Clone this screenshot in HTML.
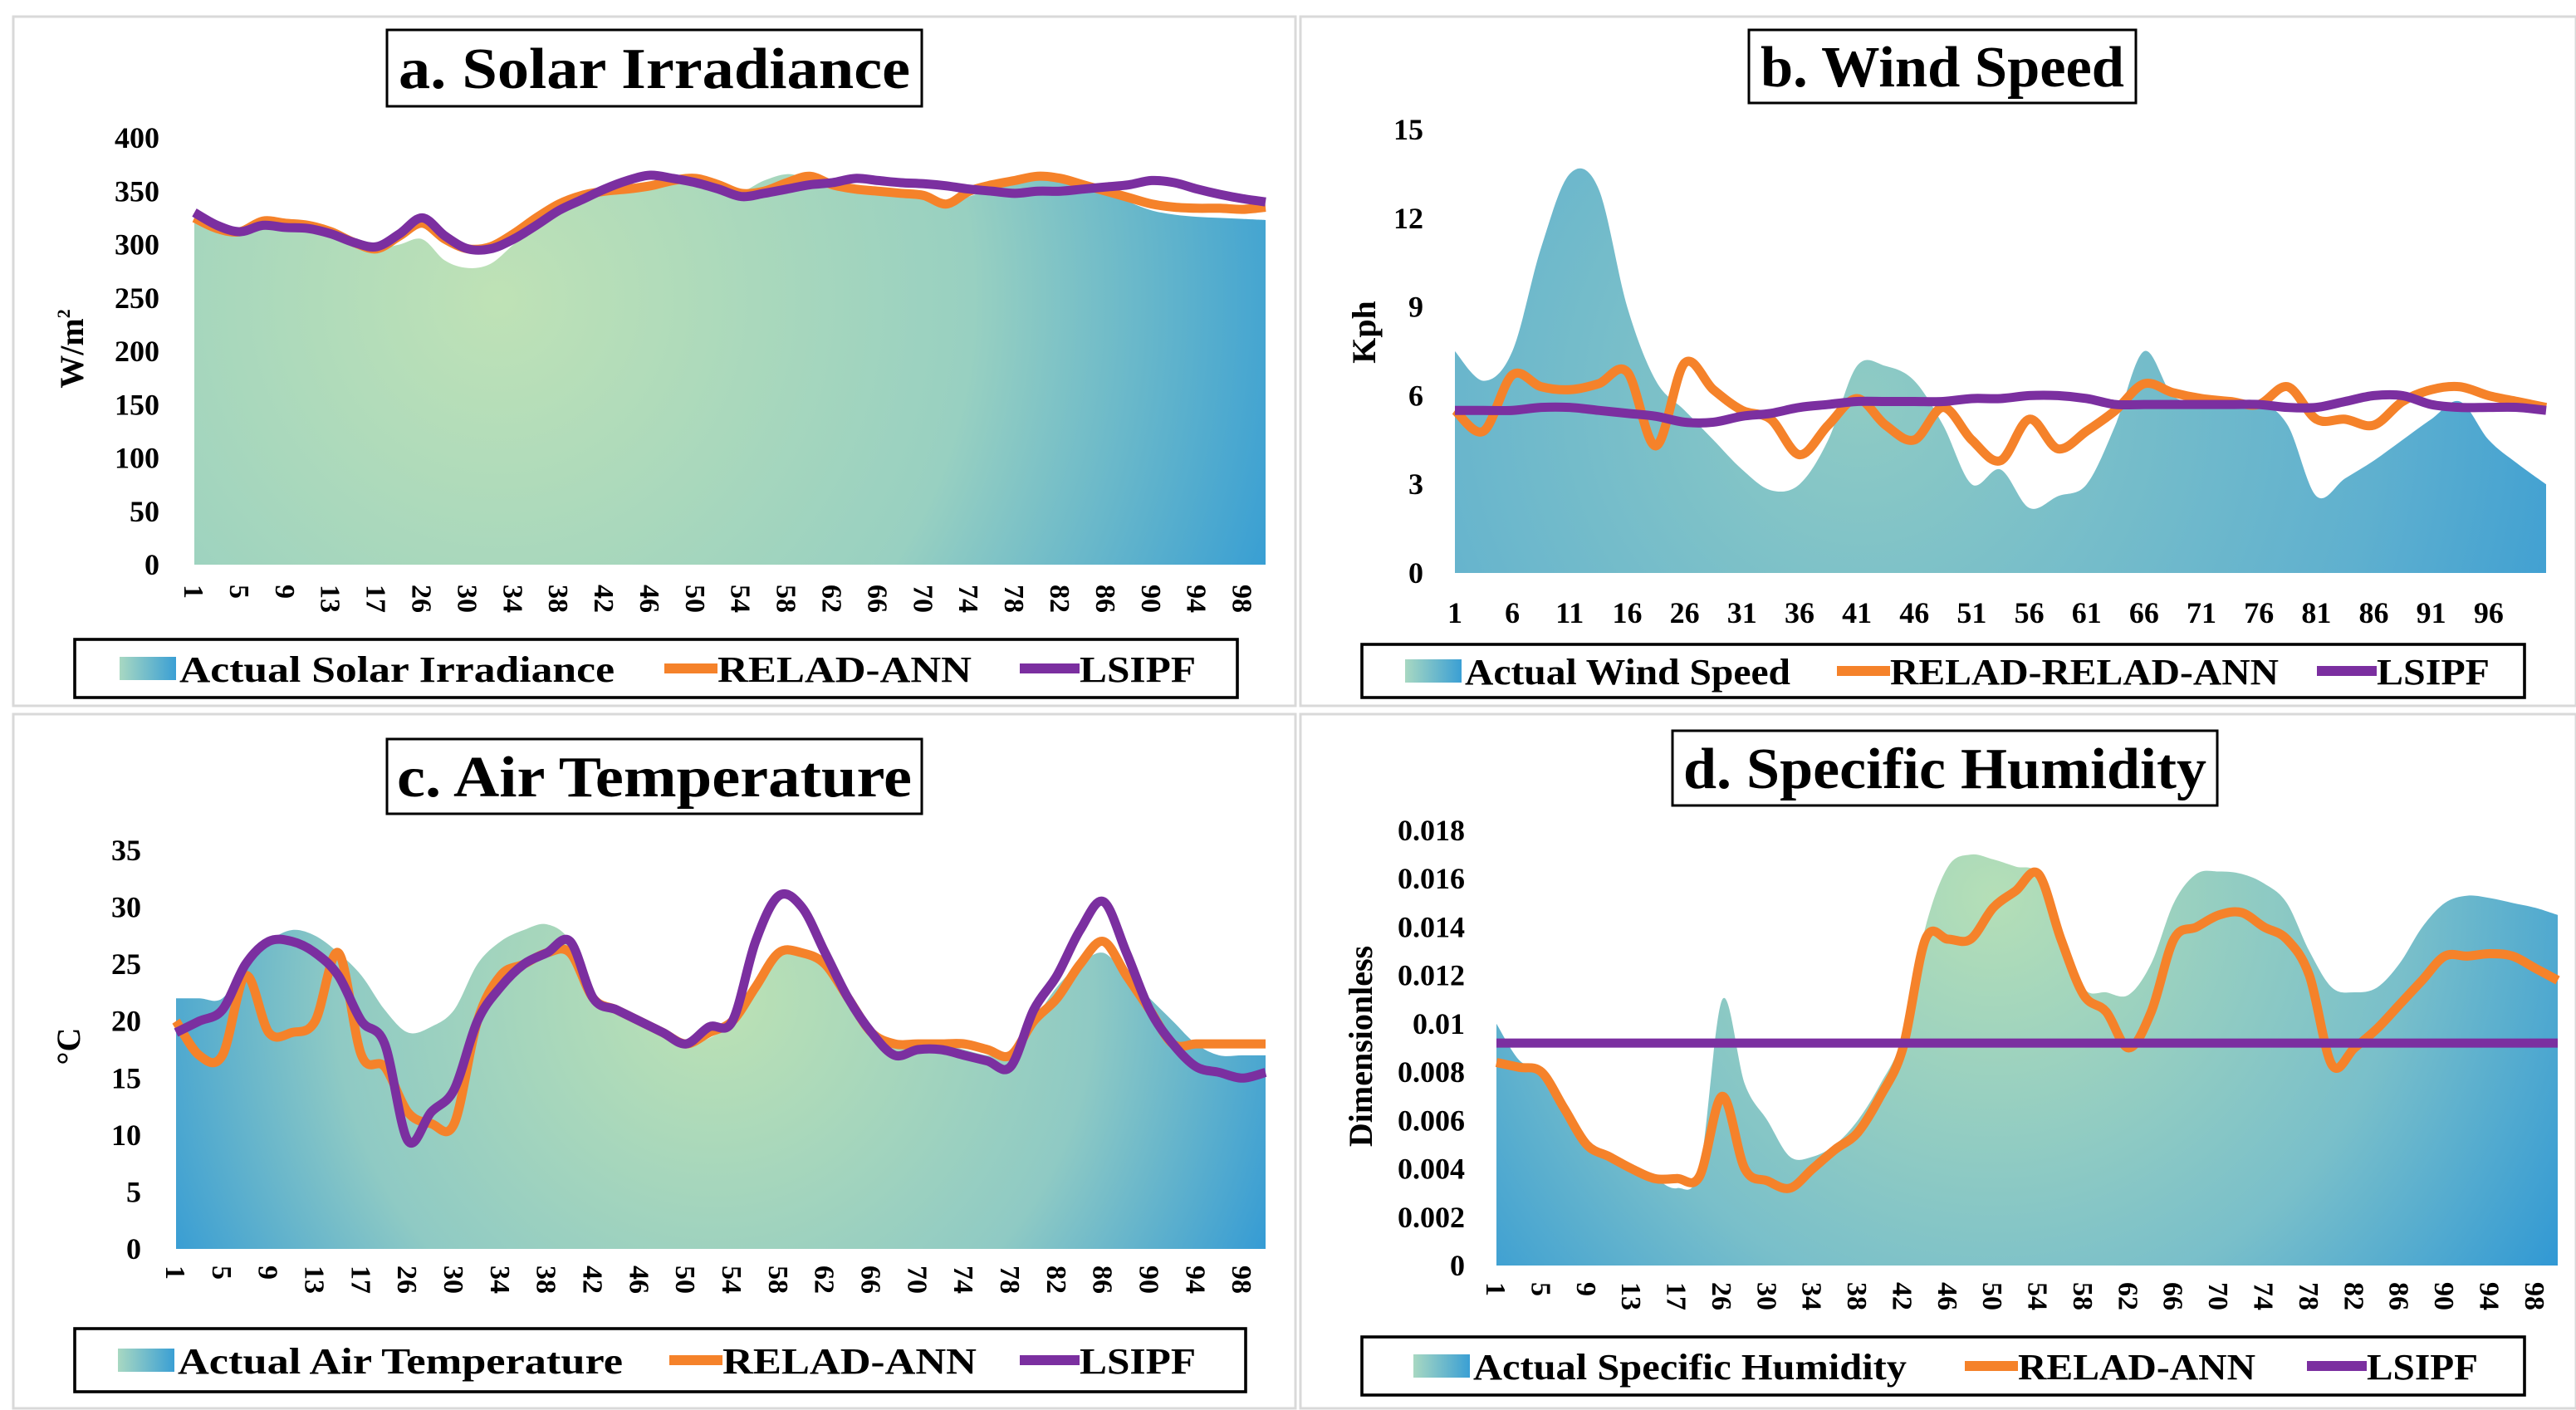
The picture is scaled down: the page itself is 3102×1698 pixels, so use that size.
<!DOCTYPE html>
<html><head><meta charset="utf-8"><style>
html,body{margin:0;padding:0;background:#fff;}
svg{display:block;}
text{font-family:"Liberation Serif",serif;font-weight:bold;fill:#000;}
</style></head><body>
<svg id="fig" width="3102" height="1698" viewBox="0 0 1551 849" xmlns="http://www.w3.org/2000/svg">
<defs>
<radialGradient id="gA" gradientUnits="userSpaceOnUse" cx="300" cy="180" r="520">
<stop offset="0" stop-color="#bfe2b6"/><stop offset="0.55" stop-color="#98d0c1"/><stop offset="1" stop-color="#2a97d6"/></radialGradient>
<radialGradient id="gB" gradientUnits="userSpaceOnUse" cx="1120" cy="240" r="520">
<stop offset="0" stop-color="#8fcbc4"/><stop offset="0.6" stop-color="#5fb0cf"/><stop offset="1" stop-color="#2a94d4"/></radialGradient>
<radialGradient id="gC" gradientUnits="userSpaceOnUse" cx="430" cy="600" r="380">
<stop offset="0" stop-color="#bde2b4"/><stop offset="0.6" stop-color="#8fcac4"/><stop offset="1" stop-color="#2b96d6"/></radialGradient>
<radialGradient id="gD" gradientUnits="userSpaceOnUse" cx="1200" cy="540" r="420">
<stop offset="0" stop-color="#b5dfb7"/><stop offset="0.6" stop-color="#79bfca"/><stop offset="1" stop-color="#2a95d5"/></radialGradient>
<linearGradient id="gL" x1="0" x2="1" y1="0" y2="0"><stop offset="0" stop-color="#a8d8c2"/><stop offset="1" stop-color="#3a9fd4"/></linearGradient>
</defs>
</svg>
<script>
// ---- data ----
const solarLabels=["1","5","9","13","17","26","30","34","38","42","46","50","54","58","62","66","70","74","78","82","86","90","94","98"];
const solarActual=[326,316,310,320,318,316,310,300,296,300,305,285,278,282,300,318,333,345,350,352,355,358,360,355,350,360,366,362,358,352,350,348,345,338,345,352,356,362,364,358,350,340,332,328,326,325,324,323];
const solarRelad=[325,315,312,322,320,318,312,302,296,308,320,305,296,298,310,325,338,346,350,352,355,360,362,356,348,350,358,364,356,352,350,348,346,338,350,356,360,364,362,356,350,344,338,335,334,334,333,335];
const solarLsipf=[330,318,312,318,316,315,310,302,298,310,325,308,296,296,305,318,332,342,352,360,365,362,358,352,345,348,352,356,358,362,360,358,357,355,352,350,348,350,350,352,354,356,360,358,352,347,343,340];

const windLabels=["1","6","11","16","26","31","36","41","46","51","56","61","66","71","76","81","86","91","96"];
const windActual=[7.5,6.5,7.5,11,13.5,13,9,6.5,5.5,4.5,3.5,2.8,3.0,4.5,7.0,7.0,6.5,5.0,3.0,3.5,2.2,2.6,3.0,5.0,7.5,6.0,5.8,5.8,5.8,5.0,2.6,3.2,3.8,4.5,5.2,5.8,4.5,3.7,3.0];
const windRelad=[5.5,4.8,6.7,6.3,6.2,6.4,6.8,4.3,7.1,6.2,5.5,5.2,4.0,5.0,5.9,5.0,4.5,5.6,4.5,3.8,5.2,4.2,4.8,5.5,6.4,6.1,5.9,5.8,5.7,6.3,5.2,5.2,5.0,5.8,6.2,6.3,6.0,5.8,5.6];
const windLsipf=[5.5,5.5,5.5,5.6,5.6,5.5,5.4,5.3,5.1,5.1,5.3,5.4,5.6,5.7,5.8,5.8,5.8,5.8,5.9,5.9,6.0,6.0,5.9,5.7,5.7,5.7,5.7,5.7,5.7,5.6,5.6,5.8,6.0,6.0,5.7,5.6,5.6,5.6,5.5];

const tempLabels=solarLabels;
const tempActual=[22,22,22,25,27,28,27.5,26,24,21,19,19.5,21,25,27,28,28.5,27,22,21,20,19,18,18.5,20,23,26,26,25,22,19,18,18,18,17.5,17,17,20,23,25,26,24,22,20,18,17,17,17];
const tempRelad=[20,17,17,24,19,19,20,26,17,16,12,11,11,20,24,25,26,26,22,21,20,19,18,19,20,23,26,26,25,22,19,18,18,18,18,17.5,17,20,22,25,27,24,21,18,18,18,18,18];
const tempLsipf=[19,20,21,25,27,27,26,24,20,18,9.5,12,14,20,23,25,26,27,22,21,20,19,18,19.5,20,27,31,30,26,22,19,17,17.5,17.5,17,16.5,16,21,24,28,30.5,26,21,18,16,15.5,15,15.5];

const humLabels=solarLabels;
const humActual=[10,8.5,8,6.5,5,4.5,4,3.6,3.2,4,11,7.5,6,4.5,4.5,5,6,7.5,9.5,14,16.5,17,16.8,16.5,16.2,14,11.5,11.3,11.2,12.5,15,16.2,16.3,16.2,15.8,15,13,11.5,11.3,11.5,12.5,14,15,15.3,15.2,15,14.8,14.5].map(v=>v/1000);
const humRelad=[8.4,8.2,8.0,6.5,5.0,4.5,4.0,3.6,3.6,3.7,7.0,4.0,3.5,3.2,4.0,4.8,5.5,7.0,9.0,13.5,13.5,13.5,14.8,15.5,16.2,13.5,11.2,10.5,9.0,10.5,13.5,14.0,14.5,14.6,14.0,13.5,12.0,8.3,9.0,9.8,10.8,11.8,12.8,12.8,12.9,12.8,12.3,11.8].map(v=>v/1000);
const humLsipf=[9.2,9.2,9.2,9.2,9.2,9.2,9.2,9.2,9.2,9.2,9.2,9.2,9.2,9.2,9.2,9.2,9.2,9.2,9.2,9.2,9.2,9.2,9.2,9.2,9.2,9.2,9.2,9.2,9.2,9.2,9.2,9.2,9.2,9.2,9.2,9.2,9.2,9.2,9.2,9.2,9.2,9.2,9.2,9.2,9.2,9.2,9.2,9.2].map(v=>v/1000);

const solarTicks=[0,50,100,150,200,250,300,350,400];
const windTicks=[0,3,6,9,12,15];
const tempTicks=[0,5,10,15,20,25,30,35];
const humTicks=[0,0.002,0.004,0.006,0.008,0.01,0.012,0.014,0.016,0.018];

// ---- drawing ----
const NS="http://www.w3.org/2000/svg";
const svg=document.getElementById('fig');
function mk(tag,attrs,parent){const e=document.createElementNS(NS,tag);for(const k in attrs)e.setAttribute(k,attrs[k]);(parent||svg).appendChild(e);return e;}
function smooth(pts){let d=`M${pts[0][0]},${pts[0][1]}`;for(let i=0;i<pts.length-1;i++){const p0=pts[i-1]||pts[i],p1=pts[i],p2=pts[i+1],p3=pts[i+2]||p2;
const c1=[p1[0]+(p2[0]-p0[0])/6,p1[1]+(p2[1]-p0[1])/6],c2=[p2[0]-(p3[0]-p1[0])/6,p2[1]-(p3[1]-p1[1])/6];d+=` C${c1[0]},${c1[1]} ${c2[0]},${c2[1]} ${p2[0]},${p2[1]}`;}return d;}

function panel(c){
  const g=mk('g',{});
  
  
  const fr=mk('rect',{x:c.fx,y:c.fy,width:c.fw,height:c.fh,fill:'none',stroke:'#d9d9d9','stroke-width':1.5},g);
  
  const tb=mk('rect',{x:c.tx,y:c.ty,width:c.tw,height:c.th,fill:'#fff',stroke:'#000','stroke-width':1.5},g);
  
  const tt=mk('text',{x:c.tx+c.tw/2,y:c.ty+c.th/2+12,'text-anchor':'middle','font-size':35,textLength:c.ttl,lengthAdjust:'spacingAndGlyphs'},g);tt.textContent=c.title;
  
  const N=c.actual.length;
  const xs=i=>c.x0+(c.x1-c.x0)*i/(N-1);
  const ys=v=>c.y0-(c.y0-c.y1)*(v-c.min)/(c.max-c.min);
  const ap=c.actual.map((v,i)=>[xs(i),ys(v)]);
  const area=mk('path',{d:smooth(ap)+` L${xs(N-1)},${c.y0} L${xs(0)},${c.y0} Z`,fill:c.grad},g);
  
  const lo=mk('path',{d:smooth(c.relad.map((v,i)=>[xs(i),ys(v)])),fill:'none',stroke:'#f5822a','stroke-width':5.5,'stroke-linejoin':'round'},g);
  
  const lp=mk('path',{d:smooth(c.lsipf.map((v,i)=>[xs(i),ys(v)])),fill:'none',stroke:'#7b2fa0','stroke-width':5.5,'stroke-linejoin':'round'},g);
  
  c.ticks.forEach(t=>{const e=mk('text',{x:c.ylx,y:ys(t)+6,'text-anchor':'end','font-size':18},g);e.textContent=String(t);
    });
  const yt=mk('text',{transform:`translate(${c.ytx},${c.yty}) rotate(-90)`,'text-anchor':'middle','font-size':20},g);
  yt.innerHTML=c.ytitle;
  c.labels.forEach((l,k)=>{const x=xs(k*c.step);let e;
    if(c.rot){e=mk('text',{transform:`translate(${x-6},${c.xly}) rotate(90)`,'font-size':17},g);}
    else{e=mk('text',{x:x,y:c.xly,'text-anchor':'middle','font-size':18},g);}
    e.textContent=l;});
  const lb=mk('rect',{x:c.lx,y:c.ly,width:c.lw,height:c.lh,fill:'#fff',stroke:'#000','stroke-width':1.8},g);
  
  const cy=c.ly+c.lh/2;
  let x=c.s1;
  const sw=mk('rect',{x:x,y:cy-7,width:34,height:14,fill:'url(#gL)'},g);
  
  const t1=mk('text',{x:x+36,y:cy+8,'font-size':22,textLength:c.w1,lengthAdjust:'spacingAndGlyphs'},g);t1.textContent=c.leg[0];
  
  x=c.s2;
  const s2=mk('line',{x1:x,y1:cy,x2:x+32,y2:cy,stroke:'#f5822a','stroke-width':6},g);
  
  const t2=mk('text',{x:x+32,y:cy+8,'font-size':22,textLength:c.w2,lengthAdjust:'spacingAndGlyphs'},g);t2.textContent=c.leg[1];
  
  x=c.s3;
  const s3=mk('line',{x1:x,y1:cy,x2:x+36,y2:cy,stroke:'#7b2fa0','stroke-width':6},g);
  
  const t3=mk('text',{x:x+36,y:cy+8,'font-size':22,textLength:c.w3,lengthAdjust:'spacingAndGlyphs'},g);t3.textContent=c.leg[2];
  
}

panel({id:'solar',fx:8,fy:10,fw:772,fh:415,tx:233,ty:18,tw:322,th:46,title:'a. Solar Irradiance',ttl:308,
 actual:solarActual,relad:solarRelad,lsipf:solarLsipf,min:0,max:400,x0:117,x1:762,y0:340,y1:83,grad:'url(#gA)',
 ticks:solarTicks,ylx:96,ytx:50,yty:210,ytitle:'W/m<tspan font-size="11" dy="-8">2</tspan>',labels:solarLabels,step:2,rot:true,xly:352,
 lx:45,ly:385,lw:700,lh:35,s1:72,s2:400,s3:614,w1:262,w2:153,w3:70,leg:['Actual Solar Irradiance','RELAD-ANN','LSIPF']});

panel({id:'wind',fx:783,fy:10,fw:768,fh:415,tx:1053,ty:18,tw:233,th:44,title:'b. Wind Speed',ttl:219,
 actual:windActual,relad:windRelad,lsipf:windLsipf,min:0,max:15,x0:876,x1:1533,y0:345,y1:78,grad:'url(#gB)',
 ticks:windTicks,ylx:857,ytx:828,yty:200,ytitle:'Kph',labels:windLabels,step:2,rot:false,xly:375,
 lx:820,ly:388,lw:700,lh:32,s1:846,s2:1106,s3:1395,w1:196,w2:234,w3:68,leg:['Actual Wind Speed','RELAD-RELAD-ANN','LSIPF']});

panel({id:'temp',fx:8,fy:430,fw:772,fh:418,tx:233,ty:445,tw:322,th:45,title:'c. Air Temperature',ttl:310,
 actual:tempActual,relad:tempRelad,lsipf:tempLsipf,min:0,max:35,x0:106,x1:762,y0:752,y1:512,grad:'url(#gC)',
 ticks:tempTicks,ylx:85,ytx:48,yty:630,ytitle:'°C',labels:tempLabels,step:2,rot:true,xly:762,
 lx:45,ly:800,lw:705,lh:38,s1:71,s2:403,s3:614,w1:268,w2:153,w3:70,leg:['Actual Air Temperature','RELAD-ANN','LSIPF']});

panel({id:'humidity',fx:783,fy:430,fw:768,fh:418,tx:1007,ty:440,tw:328,th:45,title:'d. Specific Humidity',ttl:315,
 actual:humActual,relad:humRelad,lsipf:humLsipf,min:0,max:0.018,x0:901,x1:1540,y0:762,y1:500,grad:'url(#gD)',
 ticks:humTicks,ylx:882,ytx:826,yty:630,ytitle:'Dimensionless',labels:humLabels,step:2,rot:true,xly:772,
 lx:820,ly:805,lw:700,lh:35,s1:851,s2:1183,s3:1389,w1:261,w2:143,w3:67,leg:['Actual Specific Humidity','RELAD-ANN','LSIPF']});
</script>
</body></html>
